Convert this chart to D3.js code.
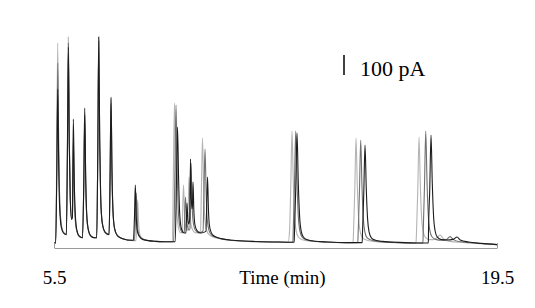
<!DOCTYPE html>
<html>
<head>
<meta charset="utf-8">
<script src="https://cdn.jsdelivr.net/npm/d3@7"></script>
<style>
    body { margin: 0; background: #fff; }
</style>
</head>
<body>
<div id="chart"></div>
<script>

// three overlaid runs, [time (min), signal (pA)]
let runA = [
    [5.50, 0], [5.55, 0],
    [5.587, 450], [5.617, 1000], [5.647, 500], [5.677, 230], [5.727, 100], [5.80, 55], [5.89, 42],
    [5.922, 465], [5.952, 1030], [5.982, 515], [6.012, 235], [6.055, 120], [6.08, 130],
    [6.110, 420], [6.14, 210], [6.17, 110], [6.22, 58], [6.30, 32], [6.40, 26],
    [6.44, 270], [6.470, 600], [6.50, 300], [6.53, 140], [6.58, 65], [6.66, 36], [6.78, 26], [6.85, 26],
    [6.883, 450], [6.913, 1000], [6.943, 500], [6.973, 230], [7.023, 100], [7.12, 52], [7.24, 42],
    [7.271, 315], [7.301, 700], [7.331, 350], [7.361, 160], [7.411, 72], [7.51, 36], [7.70, 20], [8.00, 12], [8.09, 12],
    [8.118, 97], [8.145, 215], [8.172, 108], [8.20, 52], [8.25, 30], [8.40, 15], [8.70, 8], [9.00, 6], [9.24, 6],
    [9.273, 350], [9.308, 700], [9.343, 385], [9.378, 175], [9.43, 80], [9.50, 50], [9.55, 52],
    [9.563, 140], [9.593, 290], [9.623, 155], [9.655, 88], [9.71, 62], [9.74, 72],
    [9.737, 160], [9.767, 330], [9.797, 175], [9.83, 92], [9.90, 60], [10.00, 50], [10.13, 60],
    [10.158, 260], [10.193, 525], [10.228, 290], [10.263, 130], [10.32, 65], [10.40, 42], [10.60, 26], [11.00, 15], [11.60, 8], [12.40, 5], [12.90, 4],
    [12.942, 56], [12.982, 280], [13.022, 560], [13.062, 308], [13.102, 140], [13.152, 62], [13.22, 30], [13.35, 16], [13.60, 9], [14.00, 5], [14.60, 2], [14.95, 2],
    [14.965, 52], [15.005, 262], [15.045, 525], [15.085, 290], [15.125, 131], [15.175, 58], [15.245, 27], [15.37, 15], [15.60, 8], [16.10, 3], [16.70, 0], [16.94, 0],
    [16.956, 53], [16.996, 265], [17.036, 530], [17.076, 292], [17.116, 132], [17.166, 58], [17.236, 28], [17.36, 17], [17.50, 17],
    [17.60, 26], [17.70, 40], [17.80, 22], [18.00, 8], [18.50, 2], [19.00, -4], [19.50, -8]
];

let runB = [
    [5.50, 0], [5.555, 0],
    [5.59, 405], [5.620, 900], [5.65, 450], [5.68, 207], [5.73, 90], [5.80, 52], [5.89, 42],
    [5.925, 450], [5.955, 1000], [5.985, 500], [6.015, 230], [6.058, 118], [6.082, 130],
    [6.112, 520], [6.142, 260], [6.172, 130], [6.22, 62], [6.30, 33], [6.40, 26],
    [6.442, 288], [6.472, 640], [6.502, 320], [6.532, 147], [6.582, 67], [6.66, 36], [6.78, 26], [6.85, 26],
    [6.885, 455], [6.915, 1010], [6.945, 505], [6.975, 232], [7.025, 100], [7.12, 52], [7.24, 42],
    [7.273, 324], [7.303, 720], [7.333, 360], [7.363, 165], [7.413, 74], [7.51, 36], [7.70, 20], [7.95, 14], [8.04, 14],
    [8.073, 112], [8.100, 250], [8.127, 125], [8.155, 60], [8.21, 33], [8.35, 16], [8.70, 8], [9.00, 6], [9.28, 6],
    [9.321, 345], [9.356, 690], [9.391, 380], [9.426, 172], [9.48, 80], [9.56, 52], [9.62, 54],
    [9.626, 110], [9.656, 230], [9.686, 125], [9.72, 82], [9.77, 64], [9.80, 74],
    [9.80, 190], [9.830, 400], [9.86, 210], [9.895, 110], [9.96, 66], [10.08, 50], [10.21, 60],
    [10.237, 232], [10.272, 470], [10.307, 260], [10.342, 118], [10.40, 62], [10.48, 40], [10.70, 25], [11.10, 14], [11.70, 8], [12.50, 5], [13.05, 4],
    [13.059, 56], [13.099, 280], [13.139, 560], [13.179, 308], [13.219, 140], [13.269, 62], [13.34, 30], [13.47, 16], [13.70, 9], [14.10, 5], [14.70, 2], [15.10, 2],
    [15.113, 52], [15.153, 258], [15.193, 515], [15.233, 283], [15.273, 129], [15.323, 57], [15.39, 27], [15.52, 15], [15.75, 8], [16.25, 3], [16.85, 0], [17.16, 0],
    [17.168, 56], [17.208, 280], [17.248, 560], [17.288, 308], [17.328, 140], [17.378, 62], [17.45, 30], [17.58, 17], [17.75, 14], [17.90, 17],
    [18.016, 32], [18.12, 17], [18.35, 6], [18.80, 0], [19.20, -5], [19.50, -8]
];

let runC = [
    [5.50, 0], [5.553, 0],
    [5.588, 346], [5.618, 770], [5.648, 385], [5.678, 177], [5.728, 80], [5.80, 50], [5.89, 42],
    [5.923, 440], [5.953, 980], [5.983, 490], [6.013, 225], [6.056, 118], [6.081, 130],
    [6.111, 620], [6.141, 310], [6.171, 150], [6.22, 66], [6.30, 34], [6.40, 26],
    [6.441, 304], [6.471, 675], [6.501, 338], [6.531, 155], [6.581, 70], [6.66, 36], [6.78, 26], [6.85, 26],
    [6.884, 463], [6.914, 1030], [6.944, 515], [6.974, 237], [7.024, 102], [7.12, 53], [7.24, 42],
    [7.272, 328], [7.302, 730], [7.332, 365], [7.362, 168], [7.412, 75], [7.51, 36], [7.70, 20], [7.92, 14], [8.01, 14],
    [8.043, 130], [8.070, 290], [8.097, 145], [8.125, 68], [8.18, 36], [8.32, 17], [8.70, 8], [9.00, 6], [9.33, 6],
    [9.368, 290], [9.403, 580], [9.438, 320], [9.473, 145], [9.53, 70], [9.62, 50], [9.67, 50],
    [9.703, 200], [9.73, 115], [9.76, 95], [9.79, 120],
    [9.814, 420], [9.838, 230], [9.862, 170], [9.875, 185],
    [9.893, 305], [9.92, 160], [9.955, 90], [10.02, 62], [10.14, 50], [10.30, 58],
    [10.352, 330], [10.38, 170], [10.41, 90], [10.47, 52], [10.56, 35], [10.78, 22], [11.15, 14], [11.75, 8], [12.55, 5], [13.09, 4],
    [13.10, 55], [13.14, 275], [13.18, 550], [13.22, 302], [13.26, 138], [13.31, 61], [13.38, 30], [13.51, 16], [13.74, 9], [14.15, 5], [14.75, 2], [15.24, 2],
    [15.249, 49], [15.289, 245], [15.329, 490], [15.369, 270], [15.409, 123], [15.459, 54], [15.53, 26], [15.655, 14], [15.88, 8], [16.40, 3], [17.00, 0], [17.33, 0],
    [17.335, 54], [17.375, 270], [17.415, 540], [17.455, 297], [17.495, 135], [17.545, 60], [17.615, 29], [17.74, 17], [17.92, 15], [18.12, 18],
    [18.237, 30], [18.34, 15], [18.60, 5], [19.00, -2], [19.50, -8]
];

let runs = [runA, runB, runC];
let runColors = ["#b4b4b4", "#707070", "#1c1c1c"];

let timeDomain = [5.5, 19.5];
let tickLabels = ["5.5", "19.5"];
let axisTitle = "Time (min)";
let scaleBarValue = 100;
let scaleBarLabel = "100 pA";

let serif = "Liberation Serif";

let width = 535, height = 308;

let svg = d3.select("#chart").append("svg")
    .attr("width", width)
    .attr("height", height);

// scales
let x = d3.scaleLinear()
    .domain(timeDomain)
    .range([54, 497]);

let y = d3.scaleLinear()
    .domain([0, 1000])
    .range([243, 43]);

// traces
let line = d3.line()
    .curve(d3.curveMonotoneX)
    .x(d => x(d[0]))
    .y(d => y(d[1]));

svg.selectAll(".trace")
    .data(runs)
    .enter().append("path")
    .attr("class", "trace")
    .attr("d", line)
    .attr("fill", "none")
    .attr("stroke", (d, i) => runColors[i])
    .attr("stroke-width", 1.1);

// x axis (ticks point up, labels only at the ends)
let xAxis = d3.axisBottom(x)
    .tickValues(timeDomain)
    .tickFormat((d, i) => tickLabels[i])
    .tickSizeInner(-5)
    .tickSizeOuter(0)
    .tickPadding(23);

let axisG = svg.append("g")
    .attr("class", "x-axis")
    .attr("transform", "translate(0,248)")
    .call(xAxis);

axisG.select(".domain").attr("stroke", "#9a9a9a");
axisG.selectAll(".tick line").attr("stroke", "#9a9a9a");
axisG.selectAll(".tick text")
    .attr("fill", "#000")
    .attr("font-family", serif)
    .attr("font-size", 19);

svg.append("text")
    .attr("x", (x(timeDomain[0]) + x(timeDomain[1])) / 2 + 7)
    .attr("y", 284)
    .attr("text-anchor", "middle")
    .attr("font-family", serif)
    .attr("font-size", 19)
    .text(axisTitle);

// 100 pA scale bar
let barX = 344;
svg.append("line")
    .attr("x1", barX).attr("x2", barX)
    .attr("y1", 75).attr("y2", 75 - (y(0) - y(scaleBarValue)))
    .attr("stroke", "#000")
    .attr("stroke-width", 1.5);

svg.append("text")
    .attr("x", 360)
    .attr("y", 76)
    .attr("font-family", serif)
    .attr("font-size", 22)
    .text(scaleBarLabel);

</script>
</body>
</html>
